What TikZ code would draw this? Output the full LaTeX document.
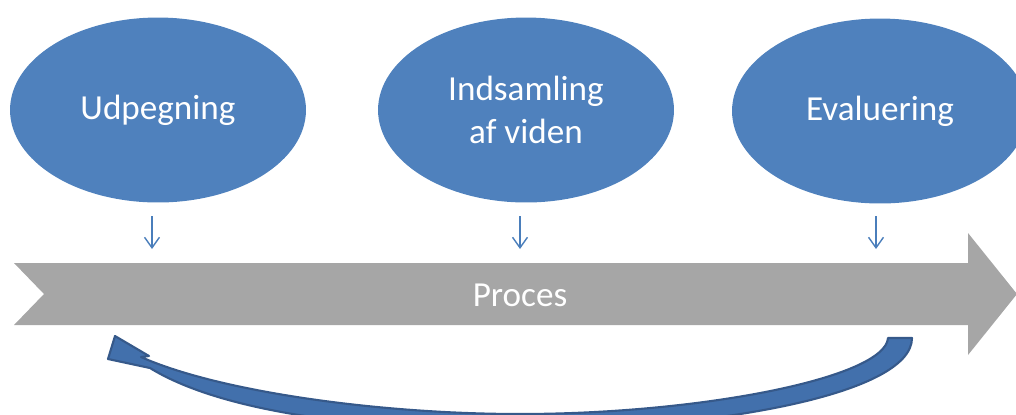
\documentclass[tikz,border=0pt]{standalone}
\usepackage{fontspec}
\setmainfont{Carlito}
\usetikzlibrary{shapes.geometric,arrows.meta}
\definecolor{bubblefill}{HTML}{4F81BD}
\definecolor{bandgray}{HTML}{A6A6A6}
\definecolor{tickblue}{HTML}{4A7EBB}
\definecolor{loopfill}{HTML}{4270AC}
\definecolor{loopedge}{HTML}{36598A}
\tikzset{
  bubble/.style={ellipse, fill=bubblefill, minimum width=5.92cm, minimum height=3.7cm,
    inner sep=0pt, text=white, align=center, font=\fontsize{20}{24.5}\selectfont},
  bandlabel/.style={text=white, font=\fontsize{20}{24}\selectfont},
  tick/.style={draw=tickblue, line width=0.8pt, -{Straight Barb[length=6pt,width=8.5pt]}},
  loop/.style={fill=loopfill, draw=loopedge, line width=1.2pt, line join=round}
}
\begin{document}
\begin{tikzpicture}[x=0.02cm, y=-0.02cm]
\useasboundingbox (0,0) rectangle (1016,414);
\clip (0,0) rectangle (1016,414);

% process band with notched tail and arrow head
\fill[bandgray] (14,263) -- (968,263) -- (968,233) -- (1017,294) -- (968,355)
  -- (968,325) -- (14,325) -- (44,294) -- cycle;
\node[bandlabel] (proc) at (520,295) {Proces};

% the three phases
\node[bubble] (udp) at (158,110) {Udpegning};
\node[bubble] (ind) at (526,110) {Indsamling\\af viden};
\node[bubble] (eva) at (880,111) {Evaluering};

% small arrows from each phase down to the band
\coordinate (t1a) at (152,216); \coordinate (t1b) at (152,249);
\coordinate (t2a) at (520,216); \coordinate (t2b) at (520,249);
\coordinate (t3a) at (876,216); \coordinate (t3b) at (876,249);
\draw[tick] (t1a) -- (t1b);
\draw[tick] (t2a) -- (t2b);
\draw[tick] (t3a) -- (t3b);

% feedback loop from the last phase back to the first
\draw[loop] (912,338) .. controls (912,395) and (710,430) .. (520,430)
  .. controls (330,430) and (210,405) .. (150,368)
  -- (108,359) -- (115,336) -- (149,356) -- (141,357)
  .. controls (220,392) and (380,414) .. (520,414)
  .. controls (700,414) and (885,378) .. (888,338) -- cycle;
\end{tikzpicture}
\end{document}
